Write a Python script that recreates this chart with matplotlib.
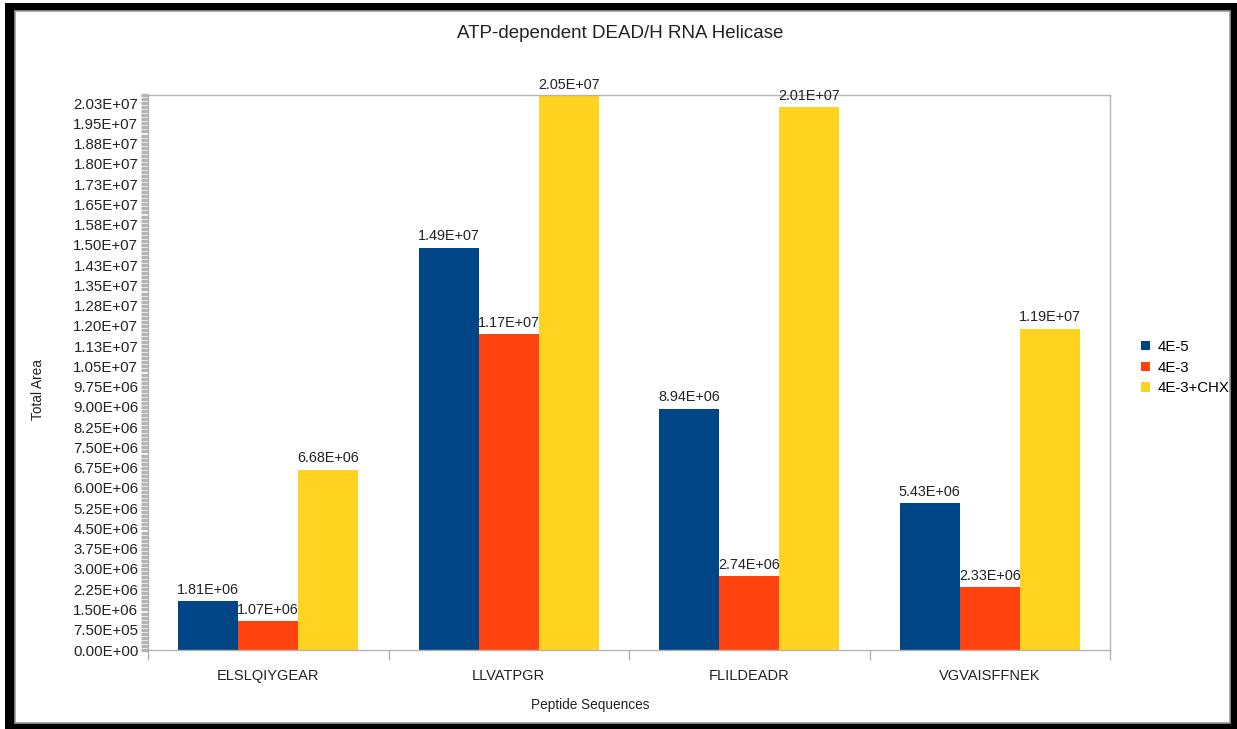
import matplotlib
matplotlib.use("Agg")
import matplotlib.pyplot as plt
import numpy as np
from matplotlib.patches import Rectangle
from matplotlib.ticker import MultipleLocator, FuncFormatter

plt.rcParams['font.family'] = ['Liberation Sans', 'DejaVu Sans']

peptides = ['ELSLQIYGEAR', 'LLVATPGR', 'FLILDEADR', 'VGVAISFFNEK']
series = ['4E-5', '4E-3', '4E-3+CHX']
vals_4e5 = [1.81e6, 1.49e7, 8.94e6, 5.43e6]
vals_4e3 = [1.07e6, 1.17e7, 2.74e6, 2.33e6]
vals_chx = [6.68e6, 2.05e7, 2.01e7, 1.19e7]
colors = ['#004586', '#ff420e', '#ffd320']
ystep = 7.5e5


def sci(v):
    # round half up like the spreadsheet does
    return format(v * (1 + 1e-12), '.2E')


W, H = 1237, 729
fig = plt.figure(figsize=(W / 100, H / 100), dpi=100)

# black frame around the chart
fig.add_artist(Rectangle((5 / W, 0), (W - 5) / W, (H - 3) / H,
                         transform=fig.transFigure, facecolor='black', edgecolor='none', zorder=-3))
fig.add_artist(Rectangle((15 / W, (H - 723) / H), (1230 - 15) / W, (723 - 11) / H,
                         transform=fig.transFigure, facecolor='white', edgecolor='#9a9a9a',
                         linewidth=1.2, zorder=-2))

ax = fig.add_axes([148 / W, (H - 650) / H, (1110 - 148) / W, (650 - 95) / H])
ax.set_facecolor('white')

x = np.arange(len(peptides))
bw = 0.25
data = [vals_4e5, vals_4e3, vals_chx]
for i, (name, vals) in enumerate(zip(series, data)):
    bars = ax.bar(x + (i - 1) * bw, vals, bw, color=colors[i], label=name, linewidth=0)
    ax.bar_label(bars, labels=[sci(v) for v in vals], padding=3, fontsize=10.4, color='#222222')

ax.set_xlim(-0.5, len(peptides) - 0.5)
ax.set_ylim(0, 2.055e7)

ax.set_yticks(np.arange(0, 2.05e7, ystep))
ax.yaxis.set_major_formatter(FuncFormatter(lambda v, p: sci(v)))
ax.yaxis.set_minor_locator(MultipleLocator(ystep / 5))
ax.tick_params(axis='y', which='both', direction='out', length=5, width=2.4,
               color='#b3b3b3', labelsize=10.8, labelcolor='#222222', pad=2)

ax.set_xticks(np.arange(-0.5, len(peptides), 1.0))
ax.set_xticklabels([])
ax.set_xticks(x, minor=True)
ax.set_xticklabels(peptides, minor=True)
ax.tick_params(axis='x', which='major', direction='out', length=7, width=1, color='#b3b3b3')
ax.tick_params(axis='x', which='minor', length=0, labelsize=10.5, labelcolor='#222222', pad=14)

for s in ax.spines.values():
    s.set_color('#b3b3b3')
    s.set_linewidth(1)

fig.text(620 / W, 1 - 33 / H, 'ATP-dependent DEAD/H RNA Helicase', ha='center', va='center',
         fontsize=13.5, color='#222222')
fig.text(38 / W, 1 - 390 / H, 'Total Area', rotation=90, ha='center', va='center',
         fontsize=9.8, color='#222222')
fig.text(590 / W, 1 - 705 / H, 'Peptide Sequences', ha='center', va='center',
         fontsize=9.8, color='#222222')

fig.legend(loc='upper left', bbox_to_anchor=(1141 / W, 1 - 340 / H), frameon=False,
           handlelength=0.6, handleheight=0.6, handletextpad=0.5, labelspacing=0.45,
           fontsize=10.8, borderaxespad=0, borderpad=0)

fig.savefig('out.png', dpi=100)
